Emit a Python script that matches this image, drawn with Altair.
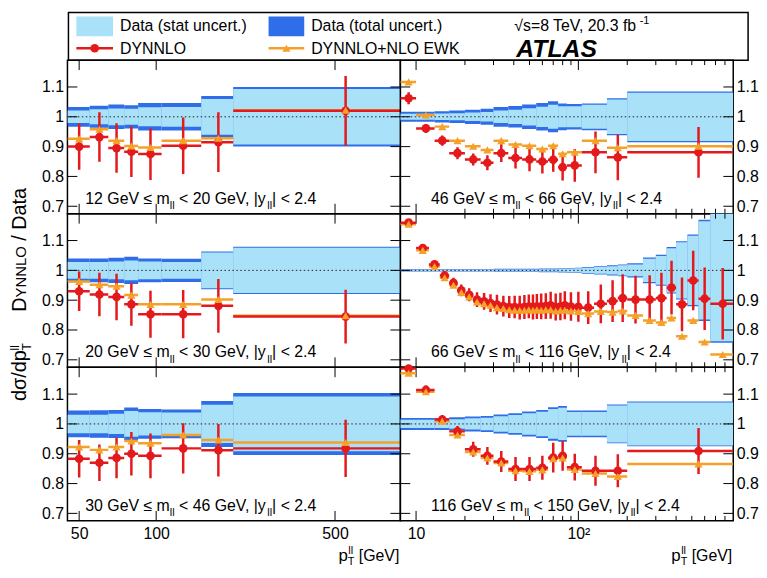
import altair as alt
import pandas as pd

FONT = "Liberation Sans"
RED = "#e3191c"
ORANGE = "#f5a028"
LIGHT = "#a9e1f9"
DARK = "#2f6ee8"

W_L, W_R, H = 336, 336, 155
YDOM = [0.675, 1.19]
YTICKS = [0.7, 0.8, 0.9, 1.0, 1.1]

# ---------------- bin edges (pT, GeV) ----------------
EDGES_LOWM = [45, 55, 65, 75, 85, 105, 150, 200, 900]
EDGES_OFFPEAK = [8, 10, 13, 16, 20, 25, 30, 37, 45, 55, 65, 75, 85, 105, 150, 200, 900]
EDGES_PEAK = [8, 10, 12, 14, 16, 18, 20, 22.5, 25, 27.5, 30, 33, 36, 39, 42, 45, 48, 51,
              54, 57, 61, 65, 70, 75, 80, 85, 95, 105, 125, 150, 175, 200, 250, 300, 350,
              400, 470, 550, 650, 900]

# ---------------- 12 GeV <= mll < 20 GeV ----------------
A_stat = [0.021, 0.025, 0.028, 0.027, 0.032, 0.033, 0.060, 0.093]
A_tot = [0.033, 0.037, 0.041, 0.039, 0.046, 0.046, 0.070, 0.100]
A_nnlo = [0.900, 0.932, 0.895, 0.883, 0.875, 0.903, 0.915, 1.020]
A_err = [0.078, 0.083, 0.083, 0.085, 0.087, 0.095, 0.100, 0.117]
A_ewk = [0.926, 0.958, 0.920, 0.902, 0.897, 0.920, 0.928, 1.022]

# ---------------- 20 GeV <= mll < 30 GeV ----------------
B_stat = [0.028, 0.028, 0.030, 0.033, 0.030, 0.028, 0.060, 0.076]
B_tot = [0.040, 0.040, 0.042, 0.046, 0.040, 0.039, 0.063, 0.079]
B_nnlo = [0.930, 0.919, 0.911, 0.886, 0.853, 0.853, 0.881, 0.845]
B_err = [0.066, 0.073, 0.078, 0.072, 0.079, 0.081, 0.090, 0.090]
B_ewk = [0.963, 0.952, 0.947, 0.917, 0.886, 0.886, 0.902, 0.848]

# ---------------- 30 GeV <= mll < 46 GeV ----------------
C_stat = [0.031, 0.031, 0.034, 0.043, 0.039, 0.038, 0.064, 0.092]
C_tot = [0.045, 0.046, 0.047, 0.055, 0.050, 0.048, 0.077, 0.104]
C_nnlo = [0.883, 0.870, 0.886, 0.900, 0.893, 0.918, 0.912, 0.918]
C_err = [0.063, 0.061, 0.068, 0.073, 0.075, 0.084, 0.088, 0.096]
C_ewk = [0.923, 0.913, 0.923, 0.943, 0.935, 0.963, 0.946, 0.938]

# ---------------- 46 GeV <= mll < 66 GeV ----------------
D_tot = [0.017, 0.017, 0.019, 0.021, 0.024, 0.027, 0.033, 0.036, 0.041, 0.046, 0.052,
         0.045, 0.043, 0.045, 0.062, 0.085]
D_stat = [0.010, 0.010, 0.011, 0.012, 0.014, 0.016, 0.021, 0.024, 0.029, 0.034, 0.040,
          0.035, 0.035, 0.040, 0.058, 0.081]
D_nnlo = [1.062, 0.961, 0.920, 0.878, 0.857, 0.846, 0.878, 0.862, 0.857, 0.850, 0.856,
          0.831, 0.837, 0.881, 0.864, 0.881]
D_err = [0.020, 0.015, 0.017, 0.020, 0.020, 0.025, 0.030, 0.035, 0.040, 0.040, 0.040,
         0.045, 0.055, 0.070, 0.077, 0.085]
D_ewk = [1.117, 1.006, 0.967, 0.920, 0.901, 0.889, 0.920, 0.907, 0.903, 0.892, 0.903,
         0.876, 0.881, 0.920, 0.896, 0.901]

# ---------------- 66 GeV <= mll < 116 GeV ----------------
E_tot = [0.004, 0.004, 0.004, 0.004, 0.004, 0.004, 0.004, 0.004, 0.004, 0.004, 0.005,
         0.005, 0.005, 0.005, 0.005, 0.005, 0.005, 0.005, 0.005, 0.006, 0.006, 0.006,
         0.006, 0.007, 0.007, 0.008, 0.009, 0.011, 0.014, 0.017, 0.020, 0.024, 0.043,
         0.052, 0.078, 0.098, 0.120, 0.170, 0.243]
E_stat = [0.002, 0.002, 0.002, 0.002, 0.002, 0.002, 0.002, 0.002, 0.002, 0.002, 0.003,
          0.003, 0.003, 0.003, 0.003, 0.003, 0.003, 0.003, 0.003, 0.004, 0.004, 0.004,
          0.004, 0.005, 0.005, 0.006, 0.007, 0.009, 0.011, 0.014, 0.017, 0.020, 0.039,
          0.048, 0.074, 0.094, 0.116, 0.165, 0.238]
E_nnlo = [1.160, 1.075, 1.020, 0.983, 0.958, 0.933, 0.918, 0.902, 0.896, 0.890, 0.885,
          0.880, 0.877, 0.877, 0.875, 0.877, 0.879, 0.877, 0.879, 0.879, 0.880, 0.883,
          0.877, 0.879, 0.883, 0.879, 0.878, 0.875, 0.888, 0.897, 0.907, 0.902, 0.902,
          0.907, 0.942, 0.886, 0.966, 0.905, 0.888]
E_err = [0.010, 0.012, 0.012, 0.015, 0.017, 0.020, 0.022, 0.025, 0.028, 0.030, 0.033,
         0.035, 0.037, 0.038, 0.040, 0.040, 0.040, 0.042, 0.042, 0.043, 0.043, 0.045,
         0.045, 0.046, 0.047, 0.048, 0.050, 0.055, 0.065, 0.070, 0.080, 0.080, 0.082,
         0.085, 0.090, 0.090, 0.100, 0.105, 0.120]
E_ewk = [1.155, 1.067, 1.013, 0.975, 0.950, 0.926, 0.911, 0.894, 0.888, 0.883, 0.875,
         0.872, 0.868, 0.866, 0.866, 0.866, 0.868, 0.866, 0.868, 0.866, 0.868, 0.868,
         0.864, 0.866, 0.866, 0.864, 0.862, 0.855, 0.862, 0.860, 0.864, 0.849, 0.832,
         0.825, 0.840, 0.779, 0.832, 0.760, 0.718]

# ---------------- 116 GeV <= mll < 150 GeV ----------------
F_tot = [0.020, 0.020, 0.020, 0.022, 0.025, 0.027, 0.032, 0.036, 0.042, 0.047, 0.056,
         0.060, 0.045, 0.045, 0.065, 0.075]
F_stat = [0.014, 0.014, 0.014, 0.016, 0.019, 0.021, 0.026, 0.030, 0.036, 0.041, 0.050,
          0.054, 0.040, 0.040, 0.062, 0.072]
F_nnlo = [1.186, 1.114, 1.015, 0.975, 0.915, 0.893, 0.874, 0.849, 0.849, 0.853, 0.887,
          0.893, 0.855, 0.843, 0.843, 0.909]
F_err = [0.015, 0.015, 0.015, 0.018, 0.025, 0.030, 0.035, 0.040, 0.040, 0.040, 0.050,
         0.050, 0.045, 0.050, 0.055, 0.077]
F_ewk = [1.170, 1.108, 1.009, 0.963, 0.906, 0.886, 0.869, 0.843, 0.841, 0.846, 0.883,
         0.886, 0.847, 0.834, 0.824, 0.866]

# ---------------- axis ticks ----------------
XDOM_L = [45, 900]
XDOM_R = [8, 900]
XMAJ_L = [50, 100, 500]
XMIN_L = []
XMAJ_R = [10, 100]
XMIN_R = [20, 30, 40, 50, 60, 70, 80, 90, 200, 300, 400, 500, 600, 700, 800]

# Arial / Liberation Sans advance widths (1/1000 em) for text placement
ARIAL = {' ': 278, '.': 278, ',': 278, '<': 584, '≤': 549, '|': 260, '/': 278, '[': 278,
         ']': 278, '(': 333, ')': 333, '=': 584, '-': 333, '+': 584, 'G': 778, 'V': 667,
         'T': 611, 'D': 722, 'Y': 667, 'N': 722, 'L': 556, 'O': 778, 'E': 667, 'W': 944,
         'K': 667, 'A': 667, 'S': 667, 'a': 556, 'b': 556, 'c': 500, 'd': 556, 'e': 556,
         'f': 278, 'l': 222, 'm': 833, 'n': 556, 'p': 556, 'r': 333, 's': 500, 't': 278,
         'u': 556, 'y': 500, 'σ': 600, '√': 549}


def tw(s, size):
    return sum(ARIAL.get(c, 556) for c in s) * size / 1000.0


DUMMY = pd.DataFrame({"k": [0]})


def txt(s, x, y, size=16, angle=0, weight="normal", style="normal", align="left",
        baseline="alphabetic"):
    kw = dict(text=s, font=FONT, fontSize=size, align=align, baseline=baseline,
              color="black", fontWeight=weight, fontStyle=style)
    if angle:
        kw["angle"] = angle
    return alt.Chart(DUMMY).mark_text(**kw).encode(x=alt.value(x), y=alt.value(y))


def label_layers(parts, x0, base_y):
    out = []
    x = x0
    for s, kind in parts:
        size = 16 if kind == "n" else 11
        y = base_y if kind == "n" else base_y + 5.5
        st = s.lstrip(" ")
        xs = x + tw(s[:len(s) - len(st)], size)
        out.append(txt(st.rstrip(" "), xs, y, size))
        x += tw(s, size)
    return out


def mass_label(lo, hi):
    return [(f"{lo} GeV ≤ m", "n"), ("ll", "s"), (f" < {hi} GeV, |y", "n"), ("ll", "s"),
            ("| < 2.4", "n")]


def ptitle(width):
    x0 = width - (tw("p", 17) + tw("T", 11) + tw(" [GeV]", 16)) - 1
    xp = x0 + tw("p", 17)
    return [txt("p", x0, H + 41, 17), txt("T", xp, H + 45, 11), txt("ll", xp + 0.5, H + 33, 11),
            txt("[GeV]", xp + tw("T", 11) + tw(" ", 16), H + 41, 16)]


def panel(edges, stat, tot, nnlo, err, ewk, label, left_col, bottom, extra=()):
    lo = edges[:-1]
    hi = edges[1:]
    df = pd.DataFrame({
        "lo": lo, "hi": hi, "mid": [(a + b) / 2 for a, b in zip(lo, hi)],
        "tlo": [1 - t for t in tot], "thi": [1 + t for t in tot],
        "slo": [1 - s for s in stat], "shi": [1 + s for s in stat],
        "nnlo": nnlo, "elo": [v - e for v, e in zip(nnlo, err)],
        "ehi": [v + e for v, e in zip(nnlo, err)], "ewk": ewk,
    })
    width = W_L if left_col else W_R
    xs = alt.Scale(type="log", domain=XDOM_L if left_col else XDOM_R, nice=False)
    ys = alt.Scale(domain=YDOM, nice=False, zero=False)
    if bottom:
        if left_col:
            xaxis = alt.Axis(values=XMAJ_L, labelExpr="format(datum.value, 'd')", title=None,
                             ticks=False, domain=False, grid=False, labelPadding=5,
                             labelFlush=False, labelOverlap=False)
        else:
            xaxis = alt.Axis(values=XMAJ_R, labelExpr="datum.value == 100 ? '10²' : '10'",
                             title=None, ticks=False, domain=False, grid=False,
                             labelPadding=5, labelFlush=False, labelOverlap=False)
    else:
        xaxis = None
    yaxis = alt.Axis(orient="left" if left_col else "right", values=YTICKS, format="~g",
                     title=None, ticks=False, domain=False, grid=False,
                     labelPadding=4 if left_col else 3, labelFlush=False, labelOverlap=False)

    def X(f):
        return alt.X(f, type="quantitative", scale=xs, axis=xaxis)

    def Y(f):
        return alt.Y(f, type="quantitative", scale=ys, axis=yaxis)

    base = alt.Chart(df)
    layers = [
        base.mark_rect(color=DARK, clip=True).encode(x=X("lo"), x2="hi", y=Y("tlo"), y2="thi"),
        base.mark_rect(color=LIGHT, clip=True).encode(x=X("lo"), x2="hi", y=Y("slo"), y2="shi"),
        alt.Chart(pd.DataFrame({"v": [1.0]})).mark_rule(
            color="#222", strokeDash=[1.5, 2.5], strokeWidth=1).encode(y=Y("v")),
    ]
    xmaj = XMAJ_L if left_col else XMAJ_R
    xmin = XMIN_L if left_col else XMIN_R
    for vals, ln in ((xmaj, 10), (xmin, 5)):
        if not vals:
            continue
        tdf = pd.DataFrame({"v": vals})
        layers.append(alt.Chart(tdf).mark_rule(color="black", strokeWidth=1).encode(
            x=X("v"), y=alt.value(0), y2=alt.value(ln)))
        layers.append(alt.Chart(tdf).mark_rule(color="black", strokeWidth=1).encode(
            x=X("v"), y=alt.value(H - ln), y2=alt.value(H)))
    ydf = pd.DataFrame({"v": YTICKS})
    layers.append(alt.Chart(ydf).mark_rule(color="black", strokeWidth=1).encode(
        y=Y("v"), x=alt.value(0), x2=alt.value(10)))
    layers.append(alt.Chart(ydf).mark_rule(color="black", strokeWidth=1).encode(
        y=Y("v"), x=alt.value(width - 10), x2=alt.value(width)))
    layers += [
        base.mark_rule(color=ORANGE, strokeWidth=2.5, clip=True).encode(
            x=X("lo"), x2="hi", y=Y("ewk")),
        base.mark_rule(color=RED, strokeWidth=2.5, clip=True).encode(
            x=X("lo"), x2="hi", y=Y("nnlo")),
        base.mark_rule(color=RED, strokeWidth=2.5, clip=True).encode(
            x=X("mid"), y=Y("elo"), y2="ehi"),
        base.mark_point(shape="circle", filled=True, size=76, color=RED, opacity=1).encode(
            x=X("mid"), y=Y("nnlo")),
        base.mark_point(shape="triangle-up", filled=True, size=68, color=ORANGE,
                        opacity=1).encode(x=X("mid"), y=Y("ewk")),
    ]
    layers += label_layers(label, 18 if left_col else 31, H - 10)
    if bottom:
        layers += ptitle(width)
    layers += list(extra)
    return alt.layer(*layers).properties(width=width, height=H)


# ---------------- y-axis title (placed in middle-left panel) ----------------
BX = -42
y0 = 189
ytitle = [
    txt("dσ/dp", BX, y0, 20, angle=270),
    txt("T", BX + 5, y0 - tw("dσ/dp", 20), 12, angle=270),
    txt("ll", BX - 7, y0 - tw("dσ/dp", 20), 12, angle=270),
]
yd = 99
ytitle += [
    txt("D", BX, yd, 20, angle=270),
    txt("YNNLO", BX, yd - tw("D", 20), 15, angle=270),
    txt("/ Data", BX, yd - tw("D", 20) - tw("YNNLO", 15) - tw(" ", 20), 20, angle=270),
]

# ---------------- legend box (drawn above the top-left panel) ----------------
LT = -48  # top of legend box relative to top-left panel
leg = [
    alt.Chart(DUMMY).mark_rect(fillOpacity=0, stroke="black", strokeWidth=1.5).encode(
        x=alt.value(1), x2=alt.value(687), y=alt.value(LT), y2=alt.value(0)),
    alt.Chart(DUMMY).mark_rect(color=LIGHT).encode(
        x=alt.value(9), x2=alt.value(46), y=alt.value(LT + 4), y2=alt.value(LT + 24)),
    alt.Chart(DUMMY).mark_rect(color=DARK).encode(
        x=alt.value(203), x2=alt.value(239), y=alt.value(LT + 4), y2=alt.value(LT + 24)),
    txt("Data (stat uncert.)", 53, LT + 19),
    txt("Data (total uncert.)", 246, LT + 19),
    alt.Chart(DUMMY).mark_rule(color=RED, strokeWidth=2.5).encode(
        x=alt.value(9), x2=alt.value(46), y=alt.value(LT + 36)),
    alt.Chart(DUMMY).mark_point(shape="circle", filled=True, size=76, color=RED,
                                opacity=1).encode(x=alt.value(27.5), y=alt.value(LT + 36)),
    txt("DYNNLO", 53, LT + 42),
    alt.Chart(DUMMY).mark_rule(color=ORANGE, strokeWidth=2.5).encode(
        x=alt.value(203), x2=alt.value(239), y=alt.value(LT + 36)),
    alt.Chart(DUMMY).mark_point(shape="triangle-up", filled=True, size=68, color=ORANGE,
                                opacity=1).encode(x=alt.value(221), y=alt.value(LT + 36)),
    txt("DYNNLO+NLO EWK", 246, LT + 42),
    txt("√s=8 TeV, 20.3 fb", 451, LT + 19),
    txt("-1", 451 + tw("√s=8 TeV, 20.3 fb", 16), LT + 12, 11),
    txt("ATLAS", 453, LT + 45, 25, weight="bold", style="italic"),
]

pA = panel(EDGES_LOWM, A_stat, A_tot, A_nnlo, A_err, A_ewk, mass_label(12, 20), True, False,
           extra=leg)
pD = panel(EDGES_OFFPEAK, D_stat, D_tot, D_nnlo, D_err, D_ewk, mass_label(46, 66), False, False)
pB = panel(EDGES_LOWM, B_stat, B_tot, B_nnlo, B_err, B_ewk, mass_label(20, 30), True, False,
           extra=ytitle)
pE = panel(EDGES_PEAK, E_stat, E_tot, E_nnlo, E_err, E_ewk, mass_label(66, 116), False, False)
pC = panel(EDGES_LOWM, C_stat, C_tot, C_nnlo, C_err, C_ewk, mass_label(30, 46), True, True)
pF = panel(EDGES_OFFPEAK, F_stat, F_tot, F_nnlo, F_err, F_ewk, mass_label(116, 150), False, True)

chart = alt.concat(pA, pD, pB, pE, pC, pF, columns=2, spacing=0, bounds="flush").properties(
    padding={"left": 0, "right": 0, "top": 0, "bottom": 0}
).configure_view(stroke="black", strokeWidth=1.5).configure_axis(
    labelFont=FONT, labelFontSize=16, labelColor="black"
)

chart.save("out.html", embed_options={"renderer": "svg", "actions": False})
